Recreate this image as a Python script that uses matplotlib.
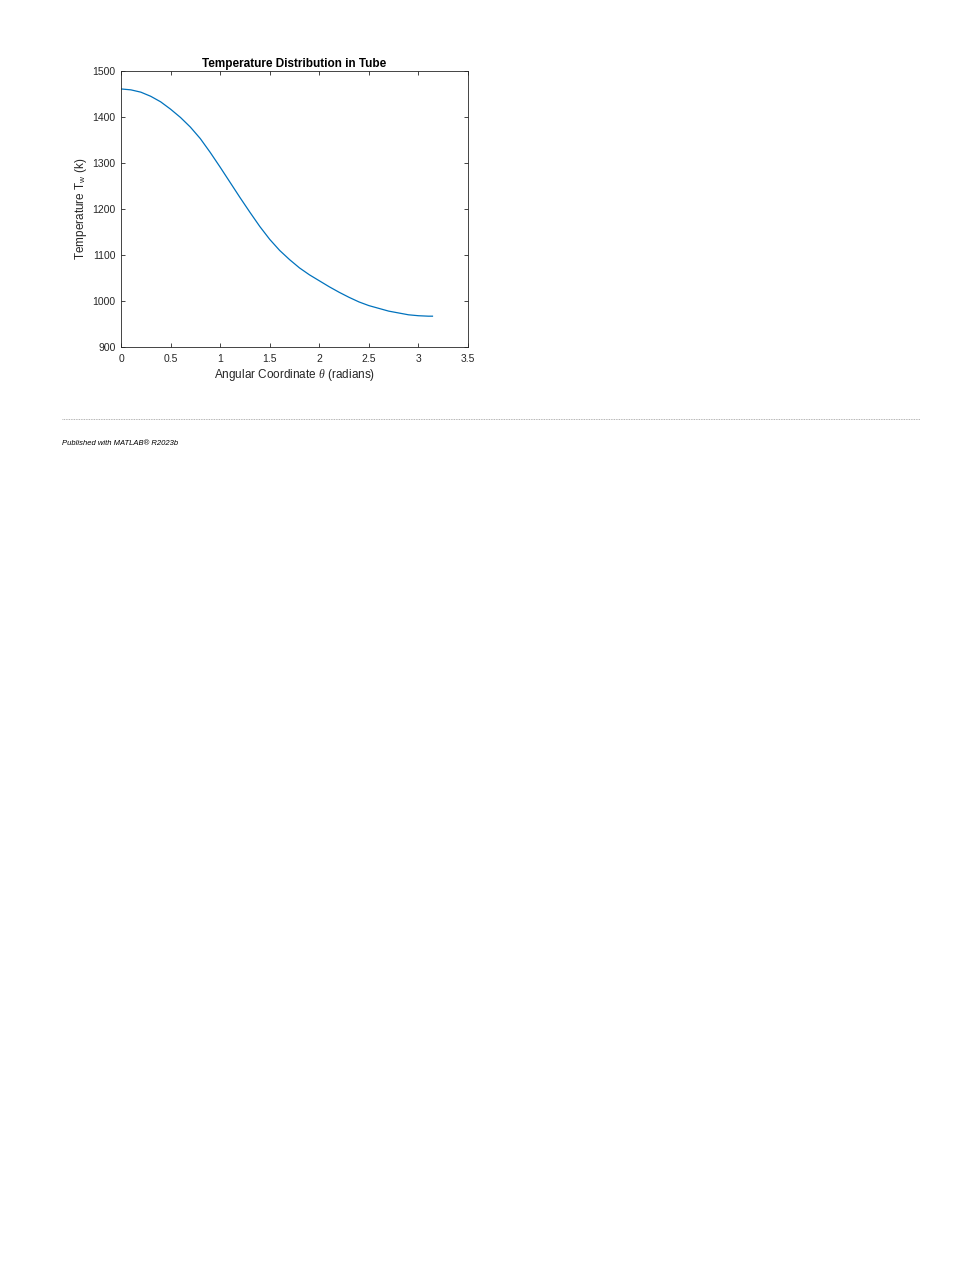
import matplotlib
matplotlib.use("Agg")
import matplotlib.pyplot as plt
import numpy as np

plt.rcParams['font.family'] = ['Liberation Sans', 'DejaVu Sans']
plt.rcParams['mathtext.fontset'] = 'custom'
plt.rcParams['mathtext.rm'] = 'Liberation Sans'
plt.rcParams['mathtext.it'] = 'Liberation Serif:italic'
plt.rcParams['mathtext.sf'] = 'Liberation Sans'

theta = [0.0, 0.1, 0.2, 0.3, 0.4, 0.5, 0.6, 0.7, 0.8, 0.9, 1.0, 1.1, 1.2, 1.3,
         1.4, 1.5, 1.6, 1.7, 1.8, 1.9, 2.0, 2.1, 2.2, 2.3, 2.4, 2.5, 2.6, 2.7,
         2.8, 2.9, 3.0, 3.1, 3.1416]
temp = [1461, 1459, 1454, 1445, 1433, 1417, 1399, 1378, 1353, 1323, 1291, 1258,
        1225, 1193, 1162, 1134, 1110, 1090, 1072, 1057, 1044, 1031, 1019, 1008,
        998, 990, 984, 978, 974, 970, 968, 967, 967]

xticks = [0, 0.5, 1, 1.5, 2, 2.5, 3, 3.5]
xtick_labels = ['0', '0.5', '1', '1.5', '2', '2.5', '3', '3.5']
yticks = [900, 1000, 1100, 1200, 1300, 1400, 1500]

fig = plt.figure(figsize=(9.8, 12.68), dpi=100)
ax = fig.add_axes([121/980, 1-347/1268, 347/980, 276/1268])
ax.plot(theta, temp, color='#0072BD', lw=0.9)
ax.set_xlim(0, 3.5)
ax.set_ylim(900, 1500)
ax.set_xticks(xticks)
ax.set_xticklabels(xtick_labels)
ax.set_yticks(yticks)
ax.tick_params(direction='in', top=True, right=True, length=3, width=0.6,
               colors='#262626', labelsize=7.5)
ax.tick_params(axis='x', pad=5)
ax.tick_params(axis='y', pad=4)
for s in ax.spines.values():
    s.set_linewidth(0.6)
    s.set_color('#262626')
ax.set_title('Temperature Distribution in Tube', fontsize=8.5, fontweight='bold', pad=3)
ax.set_xlabel(r'Angular Coordinate $\theta$ (radians)', fontsize=8.5, color='#262626', labelpad=2)
ax.set_ylabel(r'Temperature T$_{\mathrm{w}}$ (k)', fontsize=8.5, color='#262626', labelpad=2)

fig.add_artist(plt.Line2D([62/980, 920/980], [1-419/1268, 1-419/1268],
                          color='#999999', lw=0.6, linestyle=(0, (1, 1))))
fig.text(62/980, 1-443/1268, 'Published with MATLAB\u00ae R2023b', fontsize=5.5,
         style='italic', va='center', ha='left', color='#000000')

fig.savefig('out.png', dpi=100)
